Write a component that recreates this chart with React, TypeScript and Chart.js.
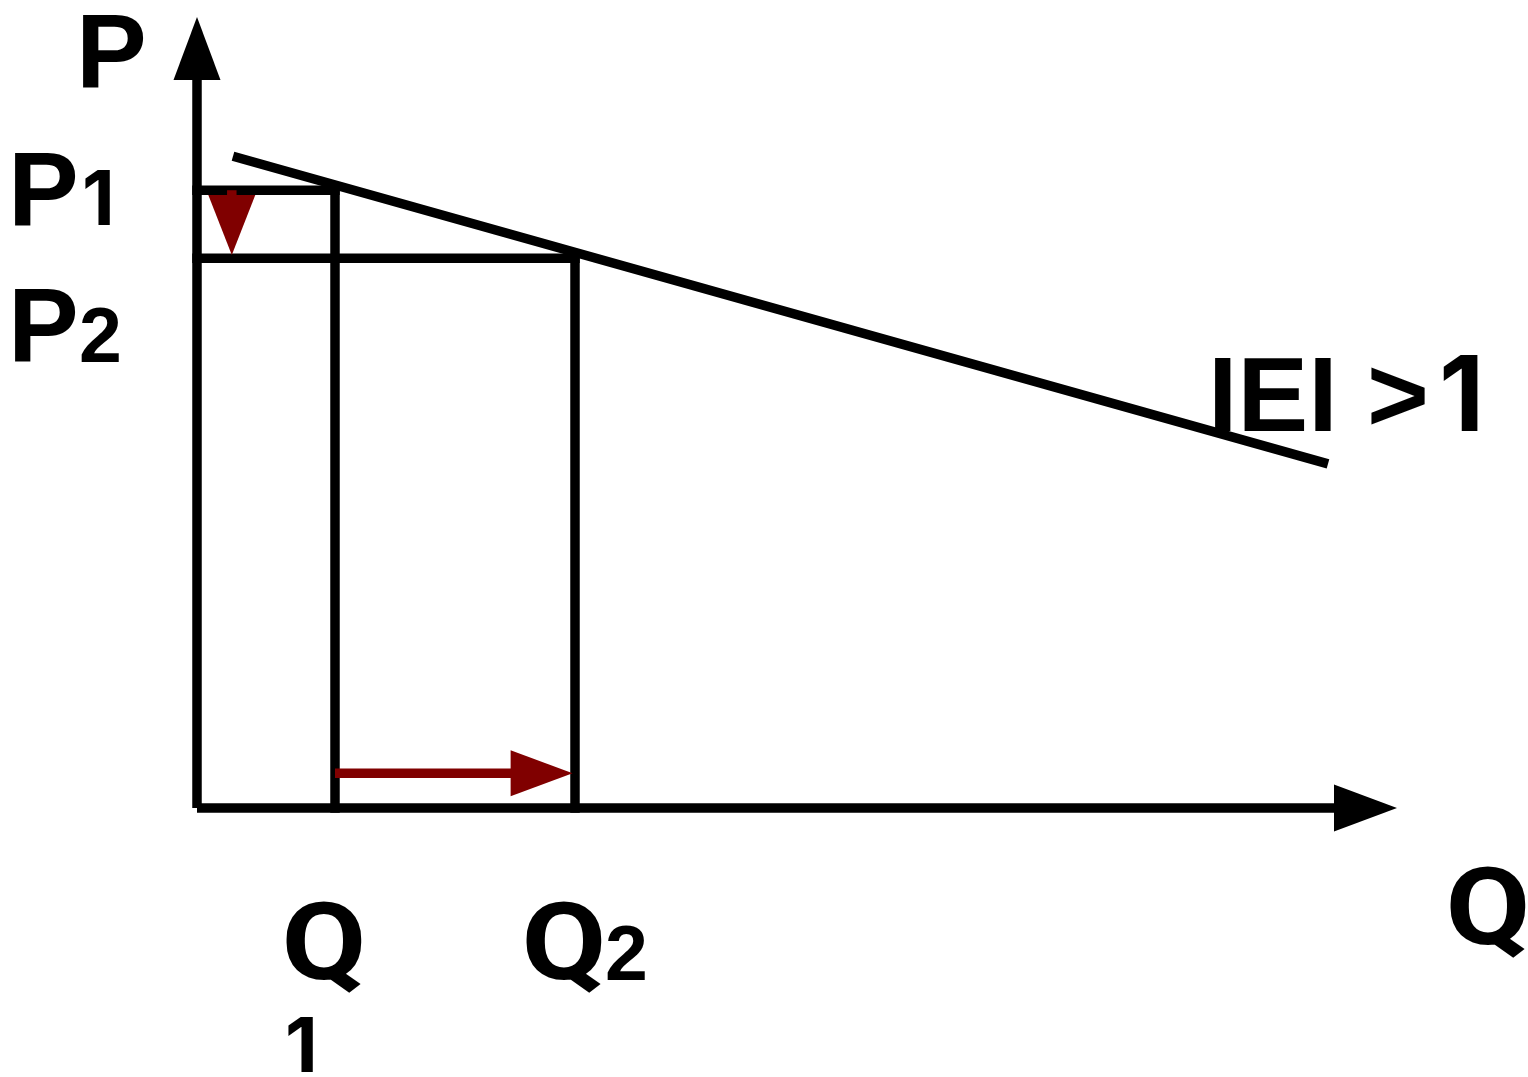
import React, { useEffect, useRef } from "react";
import { Chart, registerables } from "chart.js";

Chart.register(...registerables);

// ---- Data (abstract units: Q along the horizontal axis, P along the vertical axis) ----
const axisMaxQ = 100;
const axisMaxP = 100;
const demandQ = [3.0, 94.25];
const demandP = [82.4, 43.5];
const priceLevels = [78.1, 69.5]; // P1, P2
const quantityLevels = [11.5, 31.5]; // Q1, Q2
const priceChangeQ = 2.9; // where the price-drop arrow sits on the Q axis
const priceChangeTip = 69.9; // price-drop arrow ends here
const quantityChangeP = 4.4; // where the quantity-rise arrow sits on the P axis
const quantityChangeTip = 31.3; // quantity-rise arrow ends here

// ---- Text labels ----
const axisLabelP = "P";
const axisLabelQ = "Q";
const priceLabelMain = ["P", "P"];
const priceLabelSub = ["1", "2"];
const quantityLabelMain = ["Q", "Q"];
const quantityLabelSub = ["1", "2"];
const elasticityLabel = ["IEI >", "1"];

// ---- Styles ----
const BLACK = "#000000";
const RED = "#800000";
const LINE_W = 9.5;
const LIB = "'Liberation Sans', Arial, sans-serif";
const INTER = "Inter, 'Liberation Sans', sans-serif";
const ROBOTO = "Roboto, 'Liberation Sans', sans-serif";
const BIG = `bold 106px ${LIB}`;
const SUB = `bold 77px ${LIB}`;
const BIG_Q = `bold 107px ${ROBOTO}`;
const Q_WIDTH = 76;
const SUB_1 = `bold 76px ${INTER}`;
const BIG_1 = `bold 105px ${INTER}`;

const segment = (pts: { x: number; y: number }[], cap: CanvasLineCap) => ({
  type: "line" as const,
  data: pts,
  showLine: true,
  borderColor: BLACK,
  borderWidth: LINE_W,
  borderCapStyle: cap,
  pointRadius: 0,
  pointHoverRadius: 0,
  fill: false,
  tension: 0,
  clip: false as any,
});

const arrowPlugin = {
  id: "arrowsAndText",
  afterDatasetsDraw(chart: any) {
    const { ctx, scales } = chart;
    const xs = scales.x;
    const ys = scales.y;
    const arrows = [
      { from: [0, 0], to: [axisMaxQ, 0], color: BLACK, len: 63, hw: 23.5 },
      { from: [0, 0], to: [0, axisMaxP], color: BLACK, len: 63, hw: 23.5 },
      {
        from: [quantityLevels[0], quantityChangeP],
        to: [quantityChangeTip, quantityChangeP],
        color: RED,
        len: 62,
        hw: 23,
      },
      {
        from: [priceChangeQ, priceLevels[0]],
        to: [priceChangeQ, priceChangeTip],
        color: RED,
        len: 60,
        hw: 23.5,
      },
    ];
    ctx.save();
    for (const a of arrows) {
      const x0 = xs.getPixelForValue(a.from[0]);
      const y0 = ys.getPixelForValue(a.from[1]);
      const x1 = xs.getPixelForValue(a.to[0]);
      const y1 = ys.getPixelForValue(a.to[1]);
      const d = Math.hypot(x1 - x0, y1 - y0) || 1;
      const ux = (x1 - x0) / d;
      const uy = (y1 - y0) / d;
      const bx = x1 - ux * a.len;
      const by = y1 - uy * a.len;
      ctx.strokeStyle = a.color;
      ctx.fillStyle = a.color;
      ctx.lineWidth = LINE_W;
      ctx.lineCap = "butt";
      ctx.beginPath();
      ctx.moveTo(x0, y0);
      ctx.lineTo(bx + ux * 1, by + uy * 1);
      ctx.stroke();
      ctx.beginPath();
      ctx.moveTo(x1, y1);
      ctx.lineTo(bx - uy * a.hw, by + ux * a.hw);
      ctx.lineTo(bx + uy * a.hw, by - ux * a.hw);
      ctx.closePath();
      ctx.fill();
    }

    // text labels: glyph left edge placed at `left`, baseline at `base`,
    // optionally stretched horizontally to a given glyph width
    ctx.fillStyle = BLACK;
    ctx.textAlign = "left";
    ctx.textBaseline = "alphabetic";
    const put = (text: string, font: string, left: number, base: number, width?: number) => {
      ctx.font = font;
      const m = ctx.measureText(text);
      const gw = m.actualBoundingBoxLeft + m.actualBoundingBoxRight;
      const sx = width && gw > 0 ? width / gw : 1;
      ctx.save();
      ctx.translate(left, base);
      ctx.scale(sx, 1);
      ctx.fillText(text, m.actualBoundingBoxLeft, 0);
      ctx.restore();
    };
    put(axisLabelP, BIG, 83, 88);
    put(priceLabelMain[0], BIG, 15, 226);
    put(priceLabelSub[0], SUB_1, 85, 225);
    put(priceLabelMain[1], BIG, 15, 362);
    put(priceLabelSub[1], SUB, 81, 362);
    put(quantityLabelMain[0], BIG_Q, 286, 979, Q_WIDTH);
    put(quantityLabelSub[0], SUB_1, 288, 1072);
    put(quantityLabelMain[1], BIG_Q, 526, 979, Q_WIDTH);
    put(quantityLabelSub[1], SUB, 607, 980);
    put(axisLabelQ, BIG_Q, 1450, 944, Q_WIDTH);
    put(elasticityLabel[0], BIG, 1215, 431);
    put(elasticityLabel[1], BIG_1, 1443, 431);
    ctx.restore();
  },
};

export default function App() {
  const canvasRef = useRef<HTMLCanvasElement | null>(null);

  useEffect(() => {
    document.body.style.margin = "0";
    document.body.style.background = "#ffffff";
    const canvas = canvasRef.current;
    if (!canvas) return;
    const chart = new Chart(canvas, {
      type: "scatter",
      data: {
        datasets: [
          segment(
            [
              { x: 0, y: priceLevels[0] },
              { x: quantityLevels[0], y: priceLevels[0] },
            ],
            "square"
          ),
          segment(
            [
              { x: 0, y: priceLevels[1] },
              { x: quantityLevels[1], y: priceLevels[1] },
            ],
            "square"
          ),
          segment(
            [
              { x: quantityLevels[0], y: 0 },
              { x: quantityLevels[0], y: priceLevels[0] },
            ],
            "square"
          ),
          segment(
            [
              { x: quantityLevels[1], y: 0 },
              { x: quantityLevels[1], y: priceLevels[1] },
            ],
            "square"
          ),
          segment(
            [
              { x: demandQ[0], y: demandP[0] },
              { x: demandQ[1], y: demandP[1] },
            ],
            "butt"
          ),
        ] as any,
      },
      options: {
        animation: false,
        responsive: false,
        events: [],
        layout: { padding: { left: 197, right: 131, top: 17, bottom: 269 } },
        plugins: {
          legend: { display: false },
          tooltip: { enabled: false },
          title: { display: false },
        },
        scales: {
          x: { type: "linear", min: 0, max: axisMaxQ, display: false },
          y: { type: "linear", min: 0, max: axisMaxP, display: false },
        },
      },
      plugins: [arrowPlugin],
    });
    return () => chart.destroy();
  }, []);

  return (
    <div style={{ width: 1528, height: 1077, background: "#ffffff" }}>
      <canvas ref={canvasRef} width={1528} height={1077} style={{ display: "block" }} />
    </div>
  );
}
